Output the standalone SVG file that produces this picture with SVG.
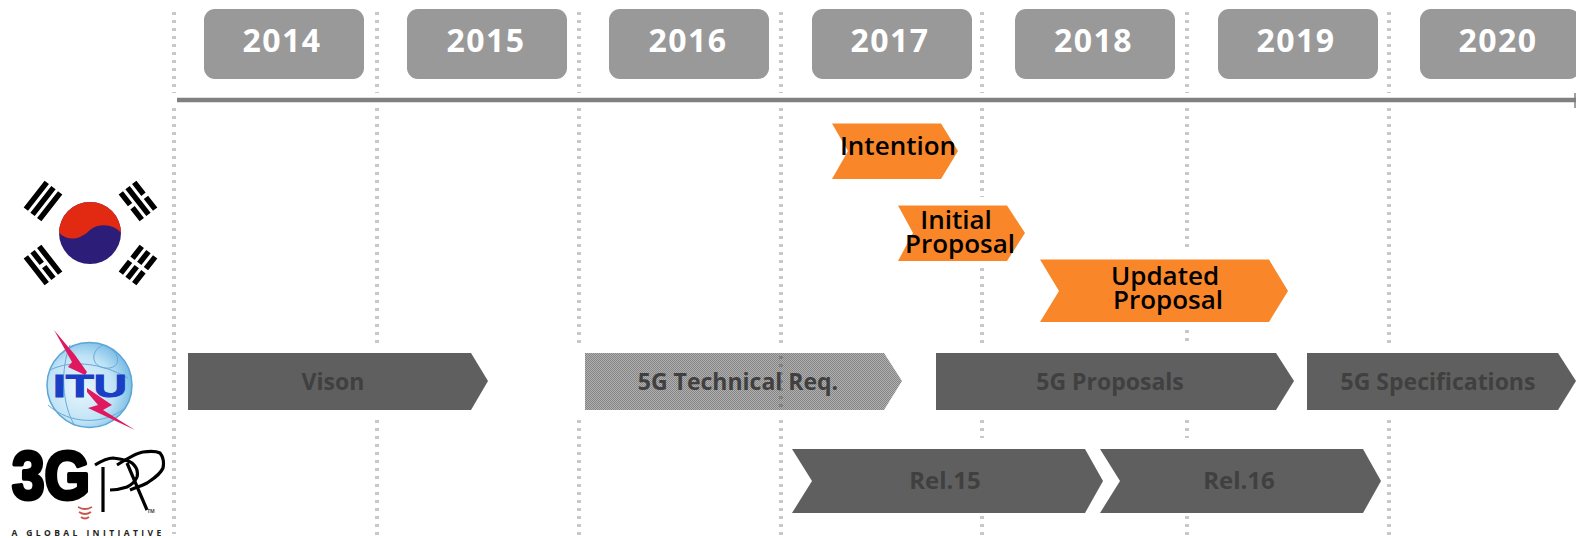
<svg xmlns="http://www.w3.org/2000/svg" width="1576" height="538" viewBox="0 0 1576 538">
<style>
text{font-family:"Open Sans","Noto Sans","Liberation Sans",sans-serif;text-anchor:middle}
.yb{fill:#999}
.yt{fill:#fff;font-size:32px;font-weight:700;letter-spacing:1.5px}
.grid path{fill:none;stroke:#c8c8c8;stroke-width:4;stroke-dasharray:3 5}
.or{fill:#f98729}
.ot{fill:#000;font-size:26px;font-weight:600}
.dk{fill:#5f5f5f}
.dt{fill:#404040;font-size:23px;font-weight:700}
.bar{fill:none;stroke:#000;stroke-width:5.5}
</style>
<defs>
<pattern id="dither" width="2" height="2" patternUnits="userSpaceOnUse">
<rect width="1" height="1" fill="#858585"/><rect x="1" y="1" width="1" height="1" fill="#858585"/>
<rect x="1" width="1" height="1" fill="#b0b0b0"/><rect y="1" width="1" height="1" fill="#b0b0b0"/>
</pattern>
<radialGradient id="globe" cx="0.4" cy="0.55" r="0.65"><stop offset="0" stop-color="#eaf6fd"/><stop offset="0.6" stop-color="#bfe3f6"/><stop offset="1" stop-color="#6db5e2"/></radialGradient>
</defs>
<g id="grid" class="grid">
<path d="M174 12V93M174 108V534"/>
<path d="M377 12V93M377 108V343M377 420V538"/>
<path d="M579 12V93M579 108V343M579 420V538"/>
<path d="M781 12V93M781 108V343M781 420V538"/>
<path d="M982 12V93M982 108V197M982 268V343M982 420V438M982 516V538"/>
<path d="M1187 12V93M1187 108V247M1187 330V343M1187 420V438M1187 516V538"/>
<path d="M1389 12V93M1389 108V343M1389 420V538"/>
</g>
<g id="connectors">
<path d="M177 100H1576" fill="none" stroke="#808080" stroke-width="4.5"/>
<path d="M1575 93V108" fill="none" stroke="#808080" stroke-width="1.5"/>
</g>
<g id="y2014"><rect class="yb" x="204" y="9" width="160" height="70" rx="11"/><text class="yt" x="282" y="52">2014</text></g>
<g id="y2015"><rect class="yb" x="407" y="9" width="160" height="70" rx="11"/><text class="yt" x="486" y="52">2015</text></g>
<g id="y2016"><rect class="yb" x="609" y="9" width="160" height="70" rx="11"/><text class="yt" x="688" y="52">2016</text></g>
<g id="y2017"><rect class="yb" x="812" y="9" width="160" height="70" rx="11"/><text class="yt" x="890" y="52">2017</text></g>
<g id="y2018"><rect class="yb" x="1015" y="9" width="160" height="70" rx="11"/><text class="yt" x="1093.5" y="52">2018</text></g>
<g id="y2019"><rect class="yb" x="1218" y="9" width="160" height="70" rx="11"/><text class="yt" x="1296" y="52">2019</text></g>
<g id="y2020"><rect class="yb" x="1420" y="9" width="160" height="70" rx="11"/><text class="yt" x="1498" y="52">2020</text></g>
<g id="intention"><polygon class="or" points="832,123.5 941,123.5 958,151 941,179 832,179 848,151"/><text class="ot" x="898" y="155">Intention</text></g>
<g id="initial"><polygon class="or" points="898,205.5 1007,205.5 1025,233 1007,261 898,261 913,233"/><text class="ot" x="956" y="228.5">Initial</text><text class="ot" x="960" y="252.5">Proposal</text></g>
<g id="updated"><polygon class="or" points="1040,259.5 1269,259.5 1288,291 1269,322 1040,322 1059,291"/><text class="ot" x="1165" y="285">Updated</text><text class="ot" x="1168" y="309">Proposal</text></g>
<g id="vison"><polygon class="dk" points="188,353 471,353 488,381 471,410 188,410"/><text class="dt" x="333" y="390">Vison</text></g>
<g id="tech"><polygon fill="url(#dither)" points="585,353 884,353 902,381 884,410 585,410"/><path d="M781 356V408" fill="none" stroke="#808080" stroke-width="4" stroke-dasharray="3 5"/><text class="dt" x="738" y="390">5G Technical Req.</text></g>
<g id="proposals"><polygon class="dk" points="936,353 1276,353 1294,381 1276,410 936,410"/><text class="dt" x="1110" y="390">5G Proposals</text></g>
<g id="specs"><polygon class="dk" points="1307,353 1558,353 1576,381 1558,410 1307,410"/><text class="dt" x="1438" y="390">5G Specifications</text></g>
<g id="rel15"><polygon class="dk" points="792,449 1085,449 1103,481 1085,513 792,513 812,481"/><text class="dt" x="945" y="489" style="font-size:24px">Rel.15</text></g>
<g id="rel16"><polygon class="dk" points="1100,449 1363,449 1381,481 1363,513 1100,513 1120,481"/><text class="dt" x="1239" y="489" style="font-size:24px">Rel.16</text></g>
<g id="flag-korea">
<circle cx="90" cy="233" r="31" fill="#2b1d78"/>
<path d="M59 233A31 31 0 0 1 121 233C115 225 100 222 90 230C82 238 70 243 59 233Z" fill="#e22a12"/>
<g transform="translate(43 201) rotate(-52)"><path class="bar" d="M-17 -8.5H17M-17 0H17M-17 8.5H17"/></g>
<g transform="translate(138 201) rotate(52)"><path class="bar" d="M-17 -8.5H-2M2 -8.5H17M-17 0H17M-17 8.5H-2M2 8.5H17"/></g>
<g transform="translate(43 265) rotate(52)"><path class="bar" d="M-17 -8.5H17M-17 0H-2M2 0H17M-17 8.5H17"/></g>
<g transform="translate(138 265) rotate(-52)"><path class="bar" d="M-17 -8.5H-2M2 -8.5H17M-17 0H-2M2 0H17M-17 8.5H-2M2 8.5H17"/></g>
</g>
<g id="logo-itu">
<circle cx="89.5" cy="385" r="42.5" fill="url(#globe)" stroke="#5aa5d6" stroke-width="1.5"/>
<path d="M103 345C88 352 92 370 110 368C122 366 120 350 103 345ZM50 370C70 360 100 362 128 378M48 405C70 425 105 425 125 408M70 345C60 370 62 405 75 426" fill="none" stroke="#6aa9d6" stroke-width="1"/>
<polygon points="54,330 75,355 87,372 85,375 68,367 72,362" fill="#e0185f"/>
<text x="90" y="397" style="font-family:'Liberation Sans',sans-serif;font-size:31px;font-weight:700;fill:#1a3fc4;stroke:#1a3fc4;stroke-width:1" textLength="74" lengthAdjust="spacingAndGlyphs">ITU</text>
<polygon points="87,388 112,405 103,410 135,430 88,408 98,405 87,392" fill="#e0185f"/>
</g>
<g id="logo-3gpp">
<text x="51" y="499" style="font-family:'Liberation Sans',sans-serif;font-size:68px;font-weight:700;fill:#000;stroke:#000;stroke-width:4;stroke-linejoin:round" textLength="78" lengthAdjust="spacingAndGlyphs">3G</text>
<path d="M103 467V512M95 465C103 460 110 458 113 458C122 459 128 460 132 463C138 468 138 473 137 477C135 482 131 485 127 487C121 489 115 490 110 490M127 463L147 510M117 465C128 458 136 453 143 452C150 451 156 451 160 453C164 458 164 463 163 468C160 475 153 479 147 483C141 486 135 488 130 490" fill="none" stroke="#000" stroke-width="3.2"/>
<path d="M78 507Q85 511 92 507M79 512Q85 516 91 512M81 517Q85 520 89 517" fill="none" stroke="#c8564f" stroke-width="1.8"/>
<text x="151" y="513" style="font-size:5px;font-weight:700;fill:#444">TM</text>
<text x="88" y="536" style="font-size:8.5px;font-weight:700;fill:#222;letter-spacing:3.4px">A GLOBAL INITIATIVE</text>
</g>
</svg>
